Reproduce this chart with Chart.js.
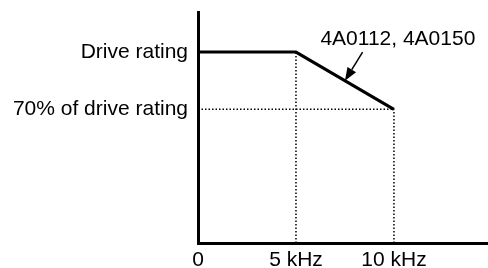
<!DOCTYPE html>
<html>
<head>
<meta charset="utf-8">
<script src="https://cdn.jsdelivr.net/npm/chart.js@4/dist/chart.umd.min.js"></script>
<style>
  html, body { margin: 0; padding: 0; background: #fff; }
  #wrap { width: 488px; height: 268px; position: relative; }
</style>
</head>
<body>
<div id="wrap"><canvas id="c"></canvas></div>
<script>
// ---- data ----
const freqKHz = [0, 5, 10];
const ratingPct = [100, 100, 70];

const xTickValues = [0, 5, 10];
const xTickLabels = ['0', '5 kHz', '10 kHz'];
const yTickValues = [70, 100];
const yTickLabels = ['70% of drive rating', 'Drive rating'];

// dotted guide lines: vertical at break frequencies, horizontal at 70 %
const guideFreq = [5, 10];
const guideTop = [100, 70];
const guideLevel = 70;
const guideLevelEnd = 10;

// annotation
const annotText = '4A0112, 4A0150';
const annotTextPos = [10.2, 107];
const annotArrowFrom = [8.4, 100];
const annotArrowTo = [7.5, 85];

const FONT = '"Liberation Sans", Arial, Helvetica, sans-serif';
const FONT_SIZE = 21;

// ---- datasets ----
const dotted = { borderColor: '#000', borderWidth: 1.5, borderDash: [1.5, 2], pointRadius: 0, fill: false, tension: 0, borderCapStyle: 'butt' };
const datasets = [];
guideFreq.forEach((f, i) => {
  datasets.push(Object.assign({ data: [{ x: f, y: 0 }, { x: f, y: guideTop[i] }], order: 2 }, dotted));
});
datasets.push(Object.assign({ data: [{ x: 0, y: guideLevel }, { x: guideLevelEnd, y: guideLevel }], order: 2 }, dotted));
datasets.push({
  data: freqKHz.map((f, i) => ({ x: f, y: ratingPct[i] })),
  borderColor: '#000', borderWidth: 3, pointRadius: 0, fill: false, tension: 0,
  borderJoinStyle: 'miter', order: 1
});

const annotPlugin = {
  id: 'annot',
  afterDatasetsDraw(chart) {
    const { ctx, scales: { x, y } } = chart;
    ctx.save();
    ctx.fillStyle = '#000';
    ctx.strokeStyle = '#000';
    ctx.font = FONT_SIZE + 'px ' + FONT;
    ctx.textAlign = 'center';
    ctx.textBaseline = 'middle';
    ctx.fillText(annotText, x.getPixelForValue(annotTextPos[0]), y.getPixelForValue(annotTextPos[1]));
    const x1 = x.getPixelForValue(annotArrowFrom[0]), y1 = y.getPixelForValue(annotArrowFrom[1]);
    const x2 = x.getPixelForValue(annotArrowTo[0]), y2 = y.getPixelForValue(annotArrowTo[1]);
    const ang = Math.atan2(y2 - y1, x2 - x1);
    const headLen = 13, headW = 5;
    const bx = x2 - headLen * Math.cos(ang), by = y2 - headLen * Math.sin(ang);
    ctx.lineWidth = 1.5;
    ctx.beginPath();
    ctx.moveTo(x1, y1);
    ctx.lineTo(bx, by);
    ctx.stroke();
    ctx.beginPath();
    ctx.moveTo(x2, y2);
    ctx.lineTo(bx + headW * Math.sin(ang), by - headW * Math.cos(ang));
    ctx.lineTo(bx - headW * Math.sin(ang), by + headW * Math.cos(ang));
    ctx.closePath();
    ctx.fill();
    ctx.restore();
  }
};

new Chart(document.getElementById('c'), {
  type: 'line',
  data: { datasets },
  plugins: [annotPlugin],
  options: {
    responsive: true,
    maintainAspectRatio: false,
    animation: false,
    layout: { padding: { top: 12, right: 0, left: 0, bottom: 0 } },
    plugins: { legend: { display: false }, tooltip: { enabled: false } },
    scales: {
      x: {
        type: 'linear', min: 0, max: 14.8,
        grid: { display: false, drawTicks: false, tickLength: 0 },
        border: { display: true, color: '#000', width: 3 },
        afterBuildTicks: s => { s.ticks = xTickValues.map(v => ({ value: v })); },
        ticks: {
          color: '#000', padding: 5, maxRotation: 0, autoSkip: false,
          font: { family: FONT, size: FONT_SIZE },
          callback: (v) => xTickLabels[xTickValues.indexOf(v)]
        },
        afterFit: s => { s.height = 25; s.paddingLeft = 0; s.paddingRight = 0; }
      },
      y: {
        type: 'linear', min: 0, max: 121,
        grid: { display: false, drawTicks: false, tickLength: 0 },
        border: { display: true, color: '#000', width: 3 },
        afterBuildTicks: s => { s.ticks = yTickValues.map(v => ({ value: v })); },
        ticks: {
          color: '#000', padding: 10, autoSkip: false,
          font: { family: FONT, size: FONT_SIZE },
          callback: (v) => yTickLabels[yTickValues.indexOf(v)]
        },
        afterFit: s => { s.width = 198; s.paddingTop = 0; s.paddingBottom = 0; }
      }
    }
  }
});
</script>
</body>
</html>
